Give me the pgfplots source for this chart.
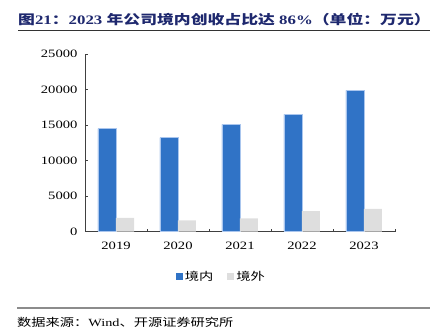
\documentclass[border=0pt]{standalone}
\usepackage{fontspec}
\setmainfont{Liberation Serif}[FakeStretch=1.3]
\newfontfamily\cjk{Noto Sans CJK SC}[FakeStretch=1.3]
\usepackage{pgfplots}
\pgfplotsset{compat=1.18}
\definecolor{barblue}{RGB}{48,115,198}
\definecolor{baredge}{RGB}{170,198,238}
\definecolor{bargray}{RGB}{222,222,222}
\definecolor{titleblue}{RGB}{30,40,110}
\begin{document}
\begin{tikzpicture}
\path[use as bounding box] (0,0) rectangle (441bp,336bp);
\node[anchor=base west, text=titleblue, inner sep=0] at (18bp,311bp)
  {\fontsize{13}{15}\selectfont\bfseries{\cjk 图}21{\cjk ：}2023 {\cjk 年公司境内创收占比达} 86\%{\cjk （单位：万元）}};
\draw[line width=1bp, black!80] (18bp,305.5bp) -- (430bp,305.5bp);
\draw[line width=1.5bp, black!45] (17bp,28bp) -- (430bp,28bp);
\node[anchor=base west, inner sep=0] at (17bp,10bp)
  {\fontsize{11}{13}\selectfont{\cjk 数据来源：}Wind{\cjk 、开源证券研究所}};
\begin{axis}[
  at={(85bp,104.3bp)}, anchor=south west,
  scale only axis, width=310bp, height=177.7bp,
  xmin=-0.5, xmax=4.5, ymin=0, ymax=25000,
  axis lines*=left,
  axis line style={draw=black!75, line width=0.8bp},
  ybar=0pt, bar width=18bp,
  xtick={0,1,2,3,4}, xticklabels={2019,2020,2021,2022,2023},
  major x tick style={draw=none},
  minor xtick={0.5,1.5,2.5,3.5,4.5},
  tick align=inside,
  major tick length=3bp, minor tick length=3bp,
  every tick/.style={draw=black!75, line width=0.8bp},
  ytick={0,5000,10000,15000,20000,25000},
  scaled y ticks=false,
  /pgf/number format/1000 sep={},
  /pgf/number format/assume math mode=true,
  ticklabel style={font=\fontsize{11.3}{13}\selectfont},
  yticklabel style={xshift=-4bp},
  xticklabel style={yshift=-7bp},
  legend style={draw=none, fill=none, legend columns=2, at={(0.44,-0.252)}, anchor=center,
    font=\cjk\fontsize{11}{13}\selectfont,
    /tikz/every even column/.append style={column sep=12bp}},
  legend image code/.code={\fill[#1,draw=none] (0bp,-3.5bp) rectangle (7bp,3.5bp);},
]
\addplot[fill=barblue, draw=baredge, line width=0.6bp] coordinates {(0,14500) (1,13250) (2,15100) (3,16500) (4,19900)};
\addplot[fill=bargray, draw=none] coordinates {(0,1950) (1,1600) (2,1880) (3,2900) (4,3200)};
\legend{境内,境外}
\end{axis}
\end{tikzpicture}
\end{document}
